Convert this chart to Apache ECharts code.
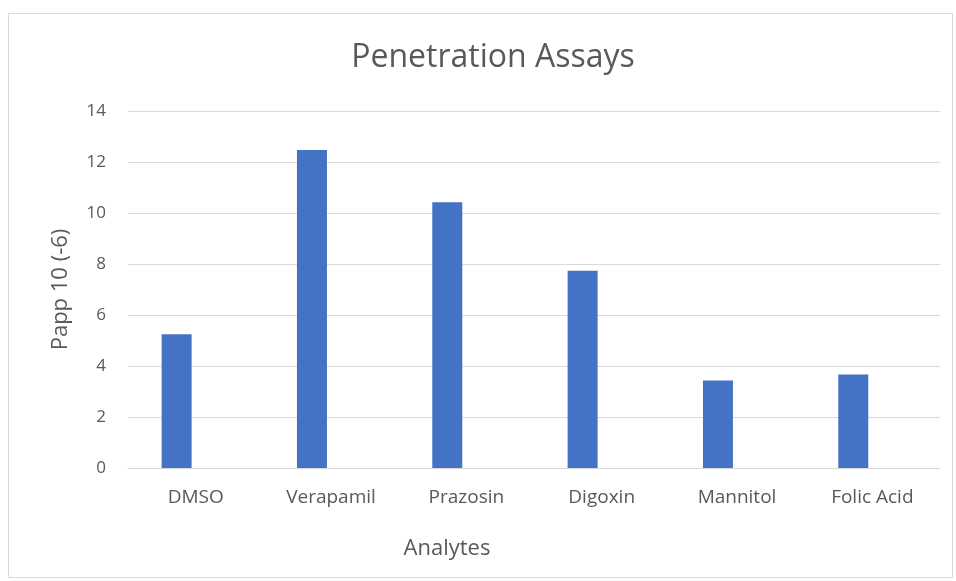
<!DOCTYPE html>
<html>
<head>
<meta charset="utf-8">
<script src="https://cdn.jsdelivr.net/npm/echarts@6/dist/echarts.min.js"></script>
<style>
  html, body { margin: 0; padding: 0; background: #fff; }
  #chart { width: 956px; height: 581px; }
</style>
</head>
<body>
<div id="chart"></div>
<script>
const categories = ['DMSO', 'Verapamil', 'Prazosin', 'Digoxin', 'Mannitol', 'Folic Acid'];
const pappValues = [5.25, 12.47, 10.42, 7.74, 3.43, 3.67];
const emptySeries = [null, null, null, null, null, null];
const yTicks = { min: 0, max: 14, interval: 2 };

const FONT = '"Open Sans", Lato, sans-serif';
const chart = echarts.init(document.getElementById('chart'));
chart.setOption({
  backgroundColor: '#ffffff',
  animation: false,
  title: {
    text: 'Penetration Assays',
    left: 488,
    textAlign: 'center',
    top: 37,
    textStyle: { fontFamily: FONT, fontSize: 32, fontWeight: 'normal', color: '#595959' }
  },
  graphic: [{
    type: 'rect',
    shape: { x: 8.5, y: 13.5, width: 944, height: 564 },
    style: { fill: 'none', stroke: '#d9d9d9', lineWidth: 1 },
    silent: true
  }],
  grid: { left: 128, right: 16, top: 111, bottom: 113, containLabel: false },
  xAxis: {
    type: 'category',
    data: categories,
    name: 'Analytes',
    nameLocation: 'middle',
    nameGap: 70,
    nameTextStyle: { fontFamily: FONT, fontSize: 22, color: '#595959', padding: [0, 174, 0, 0] },
    axisLine: { show: true, lineStyle: { color: '#d9d9d9', width: 1 } },
    axisTick: { show: false },
    axisLabel: { fontFamily: FONT, fontSize: 19, color: '#595959', margin: 20 }
  },
  yAxis: {
    type: 'value',
    min: yTicks.min,
    max: yTicks.max,
    interval: yTicks.interval,
    name: 'Papp 10 (-6)',
    nameLocation: 'middle',
    nameGap: 56,
    nameTextStyle: { fontFamily: FONT, fontSize: 22, color: '#595959' },
    axisLine: { show: false },
    axisTick: { show: false },
    axisLabel: { fontFamily: FONT, fontSize: 17, color: '#595959', margin: 22 },
    splitLine: { lineStyle: { color: '#d9d9d9', width: 1 } }
  },
  series: [
    {
      type: 'bar',
      name: 'Papp',
      data: pappValues,
      barWidth: 30,
      barGap: '27%',
      itemStyle: { color: '#4472c4' }
    },
    {
      type: 'bar',
      name: 'empty',
      data: emptySeries,
      barWidth: 30,
      barGap: '27%',
      itemStyle: { color: '#ed7d31' }
    }
  ]
});
</script>
</body>
</html>
